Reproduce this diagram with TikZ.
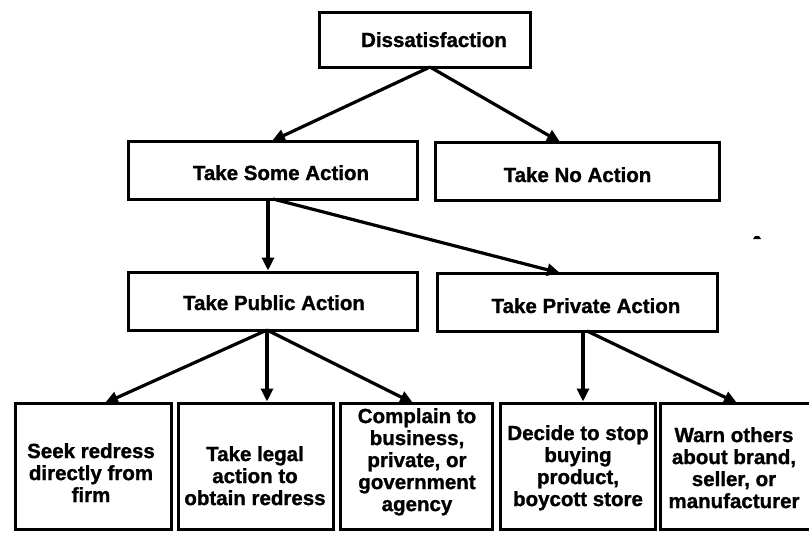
\documentclass[tikz,border=0pt]{standalone}
\usepackage{fontspec}
\setmainfont{Liberation Sans}[BoldFeatures={FakeBold=1.2}]
\usetikzlibrary{arrows.meta}
\begin{document}
\begin{tikzpicture}[x=1pt,y=-1pt,
  box/.style={draw, line width=3pt, rectangle, inner sep=0pt},
  lab/.style={font=\fontsize{20.5}{22}\selectfont\bfseries, align=center, inner sep=0pt},
  arr/.style={line width=3.2pt, -{Triangle[length=13pt,width=12pt]}},
  ln/.style={line width=3.2pt}]
\useasboundingbox (0,0) rectangle (809,533);
% top boxes
\node[box, minimum width=211pt, minimum height=55pt] (dis) at (424.5,39.5) {};
\node[lab, anchor=base] (tdis) at (434,47) {Dissatisfaction};
\node[box, minimum width=289pt, minimum height=58pt] (some) at (272.5,170) {};
\node[lab, anchor=base] (tsome) at (281,180) {Take Some Action};
\node[box, minimum width=284pt, minimum height=58pt] (no) at (577,171) {};
\node[lab, anchor=base] (tno) at (577.5,182) {Take No Action};
\node[box, minimum width=289pt, minimum height=58pt] (pub) at (272.5,301) {};
\node[lab, anchor=base] (tpub) at (274,310) {Take Public Action};
\node[box, minimum width=280pt, minimum height=58pt] (priv) at (577,302) {};
\node[lab, anchor=base] (tpriv) at (586,313) {Take Private Action};
% bottom boxes
\node[box, minimum width=156pt, minimum height=126pt] (b1) at (93,466) {};
\node[box, minimum width=155pt, minimum height=126pt] (b2) at (255.5,466) {};
\node[box, minimum width=152pt, minimum height=126pt] (b3) at (416,466) {};
\node[box, minimum width=155pt, minimum height=126pt] (b4) at (577.5,466) {};
\node[box, minimum width=160pt, minimum height=126pt] (b5) at (740,466) {};
\node[lab, anchor=north] (t1) at (91,443) {Seek redress\\directly from\\firm};
\node[lab, anchor=north] (t2) at (255,446) {Take legal\\action to\\obtain redress};
\node[lab, anchor=north] (t3) at (417,408) {Complain to\\business,\\private, or\\government\\agency};
\node[lab, anchor=north] (t4) at (578,425) {Decide to stop\\buying\\product,\\boycott store};
\node[lab, anchor=north] (t5) at (734,427) {Warn others\\about brand,\\seller, or\\manufacturer};
% connectors
\coordinate (disb) at (430,67);
\coordinate (someb) at (268,199);
\coordinate (someb2) at (273,199);
\coordinate (pubb) at (267,330);
\coordinate (privb) at (583,331);
\coordinate (privb2) at (587,331);
\draw[arr] (disb) -- (272,141);
\draw[arr] (disb) -- (560,142);
\draw[arr] (someb) -- (pub.north -| someb);
\draw[arr] (someb2) -- (560,273);
\draw[arr] (pubb) -- (105,403);
\draw[arr] (pubb) -- (b2.north -| pubb);
\draw[arr] (pubb) -- (413,403);
\draw[arr] (privb) -- (b4.north -| privb);
\draw[arr] (privb2) -- (737,403);
% stray mark
\fill (753,239) -- (755,236) -- (759,236) -- (761,239) -- cycle;
\end{tikzpicture}
\end{document}
